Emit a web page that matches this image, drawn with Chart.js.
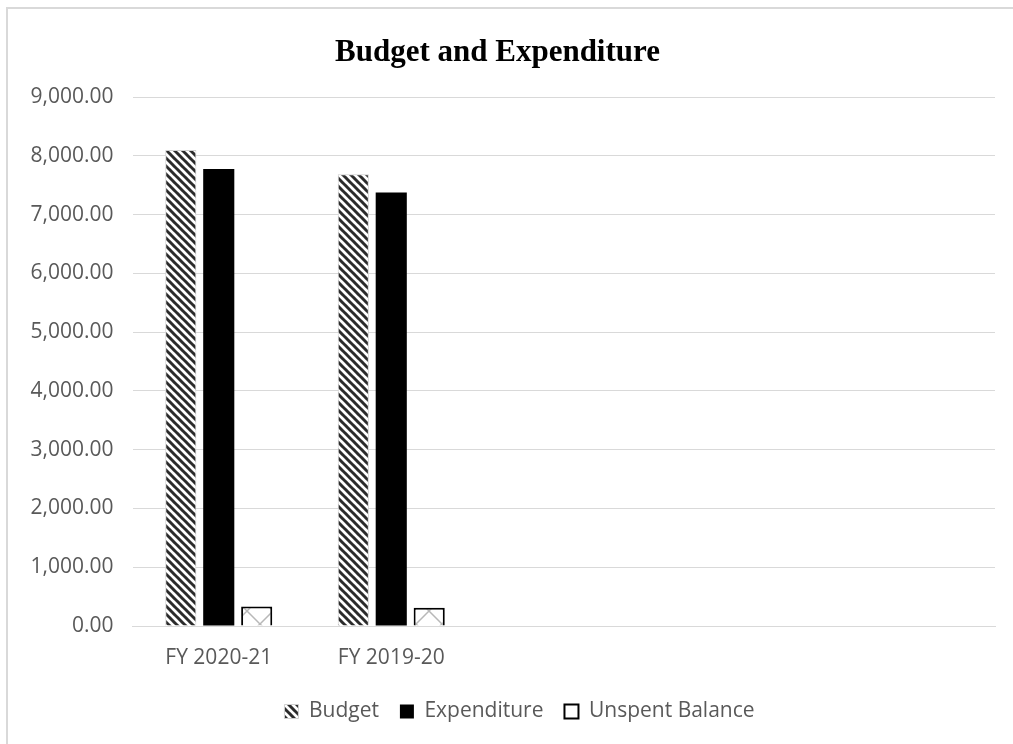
<!DOCTYPE html>
<html>
<head>
<meta charset="utf-8">
<script src="https://cdn.jsdelivr.net/npm/chart.js@4.4.1/dist/chart.umd.min.js"></script>
<style>
  html, body { margin: 0; padding: 0; background: #ffffff; }
  canvas { display: block; }
</style>
</head>
<body>
<canvas id="budgetChart" width="1013" height="744"></canvas>
<script>
// Values
const categories = ['FY 2020-21', 'FY 2019-20', '', '', ''];
const budget = [8100, 7690];
const expenditure = [7780, 7380];
const unspent = [330, 310];
const yTicks = [0, 1000, 2000, 3000, 4000, 5000, 6000, 7000, 8000, 9000];

// Diagonal stripes for the Budget bars
function stripePattern() {
    const c = document.createElement('canvas');
    c.width = 8;
    c.height = 8;
    const g = c.getContext('2d');
    g.fillStyle = '#ffffff';
    g.fillRect(0, 0, 8, 8);
    g.strokeStyle = '#2b2b2b';
    g.lineWidth = 3;
    for (let k = -1; k <= 1; k++) {
        g.beginPath();
        g.moveTo(k * 8 - 1, -1);
        g.lineTo(k * 8 + 9, 9);
        g.stroke();
    }
    return g.createPattern(c, 'repeat');
}

// Faint cross pattern for the Unspent Balance bars
function crossPattern() {
    const c = document.createElement('canvas');
    c.width = 26;
    c.height = 26;
    const g = c.getContext('2d');
    g.fillStyle = '#ffffff';
    g.fillRect(0, 0, 26, 26);
    g.strokeStyle = '#b8b8b8';
    g.lineWidth = 1.5;
    g.beginPath();
    g.moveTo(0, 0);
    g.lineTo(26, 26);
    g.moveTo(26, 0);
    g.lineTo(0, 26);
    g.stroke();
    return g.createPattern(c, 'repeat');
}

// Light frame round the chart, like the Excel chart border
const framePlugin = {
    id: 'frame',
    beforeDraw(chart) {
        const ctx = chart.ctx;
        ctx.save();
        ctx.fillStyle = '#ffffff';
        ctx.fillRect(0, 0, chart.width, chart.height);
        ctx.fillStyle = '#d9d9d9';
        ctx.fillRect(6, 7, 2, chart.height - 7);
        ctx.fillRect(6, 7, chart.width - 6, 2);
        ctx.restore();
    },
    // nudge the legend a little to the right, as in the original
    afterUpdate(chart) {
        chart.legend.left += 44;
    }
};

const tickFont = { family: '"Open Sans", sans-serif', size: 21 };

new Chart(document.getElementById('budgetChart').getContext('2d'), {
    type: 'bar',
    data: {
        labels: categories,
        datasets: [{
            label: 'Budget',
            data: budget,
            backgroundColor: stripePattern(),
            borderColor: '#d0d0d0',
            borderWidth: 1
        }, {
            label: 'Expenditure',
            data: expenditure,
            backgroundColor: '#000000',
            borderWidth: 0
        }, {
            label: 'Unspent Balance',
            data: unspent,
            backgroundColor: crossPattern(),
            borderColor: '#000000',
            borderWidth: 2
        }]
    },
    options: {
        responsive: false,
        animation: false,
        categoryPercentage: 0.66,
        barPercentage: 0.82,
        layout: {
            padding: { left: 0, right: 18, top: 0, bottom: 12 }
        },
        scales: {
            x: {
                grid: { display: false },
                border: { display: true, color: '#d9d9d9', width: 1 },
                ticks: {
                    color: '#595959',
                    font: tickFont,
                    padding: 11,
                    maxRotation: 0,
                    autoSkip: false
                },
                afterFit: function (scale) {
                    scale.height = 54;
                }
            },
            y: {
                min: 0,
                max: 9000,
                afterBuildTicks: function (scale) {
                    scale.ticks = yTicks.map(v => ({ value: v }));
                },
                grid: {
                    color: '#d9d9d9',
                    lineWidth: 1,
                    drawTicks: false
                },
                border: { display: false },
                ticks: {
                    color: '#595959',
                    font: tickFont,
                    padding: 19,
                    callback: function (value) {
                        return value.toLocaleString('en-US', { minimumFractionDigits: 2, maximumFractionDigits: 2 });
                    }
                },
                afterFit: function (scale) {
                    scale.width = 132.5;
                }
            }
        },
        plugins: {
            title: {
                display: true,
                text: 'Budget and Expenditure',
                color: '#000000',
                font: { family: '"Liberation Serif", "Times New Roman", serif', size: 31, weight: 'bold' },
                padding: { top: 34, bottom: 26 }
            },
            legend: {
                position: 'bottom',
                labels: {
                    color: '#595959',
                    font: tickFont,
                    boxWidth: 14,
                    boxHeight: 14,
                    padding: 21,
                    generateLabels: function (chart) {
                        const items = Chart.defaults.plugins.legend.labels.generateLabels(chart);
                        // the Unspent Balance key is a plain white box
                        items[2].fillStyle = '#ffffff';
                        return items;
                    }
                }
            },
            tooltip: { enabled: false }
        }
    },
    plugins: [framePlugin]
});
</script>
</body>
</html>
